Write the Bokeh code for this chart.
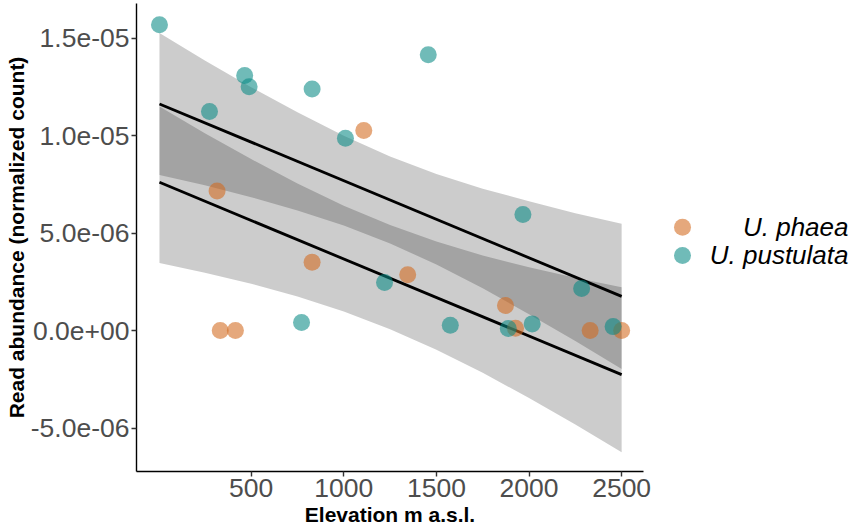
from bokeh.plotting import figure
from bokeh.models import Range1d, FixedTicker
from bokeh.layouts import row
from bokeh.embed import file_html
from bokeh.resources import INLINE
from bokeh.core.properties import value

# ---------------- data ----------------
species = ["U. phaea", "U. pustulata"]
colors = ["#D2691E", "#088A85"]

phaea_elev = [316, 333, 415, 829, 1108, 1345, 1873, 1927, 2330, 2500]
phaea_abund = [7.16e-6, 0.0, 0.0, 3.5e-6, 1.026e-5, 2.86e-6, 1.28e-6, 1.2e-7, 0.0, 0.0]

pustulata_elev = [5, 275, 465, 489, 772, 829, 1009, 1220, 1456, 1575, 1888, 1967, 2017, 2284, 2454]
pustulata_abund = [1.568e-5, 1.123e-5, 1.308e-5, 1.250e-5, 4.1e-7, 1.239e-5, 9.86e-6, 2.46e-6,
                   1.414e-5, 2.7e-7, 1.0e-7, 5.95e-6, 3.4e-7, 2.15e-6, 2.0e-7]

fit_elev = [5, 2500]
pustulata_fit = [1.162e-5, 1.75e-6]
phaea_fit = [7.60e-6, -2.26e-6]

band_elev = [5, 250, 500, 750, 1000, 1250, 1500, 1750, 2000, 2250, 2500]
pustulata_upper = [1.526e-5, 1.385e-5, 1.248e-5, 1.119e-5, 9.99e-6, 8.93e-6, 8.03e-6, 7.27e-6, 6.63e-6, 6.02e-6, 5.47e-6]
pustulata_lower = [7.98e-6, 7.45e-6, 6.84e-6, 6.16e-6, 5.38e-6, 4.46e-6, 3.39e-6, 2.17e-6, 8.3e-7, -5.4e-7, -1.97e-6]
phaea_upper = [1.149e-5, 1.012e-5, 8.79e-6, 7.54e-6, 6.40e-6, 5.41e-6, 4.57e-6, 3.85e-6, 3.24e-6, 2.70e-6, 2.22e-6]
phaea_lower = [3.46e-6, 2.96e-6, 2.40e-6, 1.74e-6, 9.8e-7, 7e-8, -9.8e-7, -2.17e-6, -3.46e-6, -4.82e-6, -6.24e-6]

x_ticks = [500, 1000, 1500, 2000, 2500]
y_ticks = [-5e-6, 0.0, 5e-6, 1e-5, 1.5e-5]
y_tick_labels = ["-5.0e-06", "0.0e+00", "5.0e-06", "1.0e-05", "1.5e-05"]

x_title = "Elevation m a.s.l."
y_title = "Read abundance (normalized count)"

FONT = "Liberation Sans"

# ---------------- main plot ----------------
p = figure(width=653, height=528, output_backend="svg", toolbar_location=None,
           x_range=Range1d(-119, 2618), y_range=Range1d(-7.23e-6, 1.677e-5),
           min_border_left=136, min_border_right=10, min_border_top=3, min_border_bottom=57)
p.xgrid.visible = False
p.ygrid.visible = False
p.outline_line_color = None
p.background_fill_color = "white"
p.border_fill_color = "white"

p.varea(x=band_elev, y1=pustulata_lower, y2=pustulata_upper, fill_color="black", fill_alpha=0.2)
p.varea(x=band_elev, y1=phaea_lower, y2=phaea_upper, fill_color="black", fill_alpha=0.2)
p.line(fit_elev, pustulata_fit, line_color="black", line_width=2.8)
p.line(fit_elev, phaea_fit, line_color="black", line_width=2.8)

p.scatter(phaea_elev, phaea_abund, size=17, fill_color=colors[0], fill_alpha=0.58, line_alpha=0)
p.scatter(pustulata_elev, pustulata_abund, size=17, fill_color=colors[1], fill_alpha=0.58, line_alpha=0)

p.xaxis.ticker = FixedTicker(ticks=x_ticks)
p.yaxis.ticker = FixedTicker(ticks=y_ticks)
p.yaxis.major_label_overrides = dict(zip(y_ticks, y_tick_labels))
p.xaxis.axis_label = x_title
p.yaxis.axis_label = y_title

for ax in (p.xaxis, p.yaxis):
    ax.axis_line_color = "black"
    ax.axis_line_width = 1.4
    ax.major_tick_line_color = "#333333"
    ax.major_tick_line_width = 1.4
    ax.major_tick_in = 0
    ax.major_tick_out = 5
    ax.minor_tick_line_color = None
    ax.major_label_text_font = FONT
    ax.major_label_text_font_size = "26.5px"
    ax.major_label_text_color = "#4D4D4D"
    ax.major_label_standoff = 2
    ax.axis_label_text_font = FONT
    ax.axis_label_text_font_size = "21px"
    ax.axis_label_text_font_style = "bold"
    ax.axis_label_text_color = "black"
p.xaxis.axis_label_standoff = 3
p.yaxis.axis_label_standoff = 0

# ---------------- legend panel (shares the y scale of the main plot) ----------------
lg = figure(width=197, height=528, output_backend="svg", toolbar_location=None,
            x_range=Range1d(0, 197), y_range=p.y_range,
            x_axis_type=None, y_axis_type=None,
            min_border_left=0, min_border_right=0, min_border_top=3, min_border_bottom=57)
lg.outline_line_color = None
lg.background_fill_color = "white"
lg.border_fill_color = "white"
legend_y = [5.30e-6 - 1.45e-6 * i for i in range(len(species))]
lg.scatter(x=[29] * len(species), y=legend_y, size=17, fill_color=colors, fill_alpha=0.58, line_alpha=0)
lg.text(x=[195] * len(species), y=legend_y, text=species, text_align="right", text_baseline="middle",
        text_font=value(FONT), text_font_style="italic", text_font_size="26px", text_color="black")

layout = row(p, lg)
open("out.html", "w").write(file_html(layout, INLINE))
